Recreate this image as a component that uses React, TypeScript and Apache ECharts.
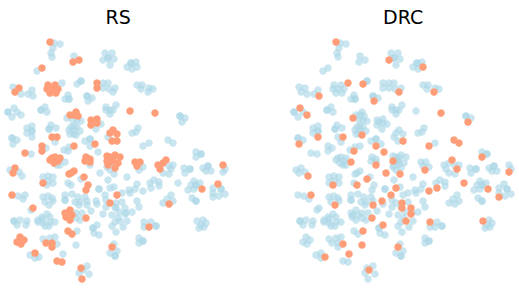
import React, { useEffect, useRef } from "react";
import * as echarts from "echarts";

const titles = ["RS", "DRC"];
const titleLefts = [100.5, 378];
const blueColor = "rgba(173,216,230,0.66)";
const orangeColor = "#ff9d78";

// Shared embedding coordinates, grouped by which panel marks the point in orange.
const neither: number[][] = [
  [54,43],[60,44],[53,48],[51,53],[52,57],[74,56],
  [108,58],[108,58],[105,53],[112,53],[114,59],[110,65],
  [131,63],[131,63],[136,62],[127,67],[132,69],[37,71],
  [137,85],[142,85],[141,89],[149,88],[153,89],
  [180,116],[180,116],[185,118],[138,128],[136,132],[132,133],[149,143],
  [196,152],[201,154],[201,154],[13,87],[21,94],[32,90],[28,94],[81,81],[81,81],
  [68,95],[65,99],[69,99],[69,99],[87,96],[87,96],[92,98],
  [103,83],[108,83],[103,88],[109,89],[115,88],
  [8,112],[8,112],[17,112],[12,117],[41,110],[41,110],[45,107],[47,112],
  [73,120],[77,120],[81,121],[101,124],[96,129],
  [106,107],[110,110],[116,105],[113,110],[110,114],[106,110],
  [32,126],[27,128],[27,133],[32,131],[32,131],[49,129],[49,129],[51,125],[56,128],[55,142],
  [74,126],[71,127],[77,127],[69,130],[80,131],[70,134],[74,134],[74,130],
  [12,138],[12,138],[17,140],[31,154],[46,148],[64,150],[69,147],
  [90,139],[90,139],[85,141],[108,137],
  [10,170],[19,172],[57,165],[60,165],[111,161],[107,167],[113,164],[110,170],[143,167],
  [169,166],[173,165],[163,173],[169,174],[184,168],[190,169],[190,169],[185,173],
  [203,168],[208,166],[208,166],[206,171],[211,171],[225,169],
  [150,183],[154,180],[159,182],[159,186],[137,184],[135,189],[130,193],
  [194,181],[191,185],[196,185],[196,185],[200,183],[188,190],[194,189],
  [213,188],[221,189],[221,189],[213,193],[219,196],[225,194],
  [171,195],[167,199],[163,203],[173,201],[192,198],[196,201],[196,201],[137,201],[139,207],[132,212],
  [203,220],[206,223],[199,228],[204,227],[201,225],
  [144,227],[151,222],[156,226],[156,226],[139,238],[143,241],[143,241],[139,243],
  [48,176],[43,177],[53,177],[48,181],[53,183],[108,180],[127,177],[68,183],
  [18,196],[23,199],[48,196],[43,197],[52,198],[45,202],[53,201],
  [65,195],[65,200],[65,200],[72,194],[78,197],[85,197],[80,202],[75,202],[79,205],[87,201],[91,211],
  [31,210],[97,204],[103,214],[99,189],[99,189],[114,187],[106,200],[106,207],[115,207],[122,202],
  [126,213],[112,215],[119,212],[118,218],[127,221],[115,222],[112,226],[123,227],[116,232],[122,193],[129,190],
  [42,217],[47,214],[38,222],[43,219],[50,217],[55,222],[43,223],[49,226],[45,226],[50,222],[38,220],
  [14,221],[14,221],[20,220],[27,221],[17,225],[26,225],
  [76,213],[82,213],[76,218],[80,220],[93,228],[93,228],[94,233],[99,235],
  [43,239],[50,238],[55,237],[30,255],[35,258],
  [114,244],[117,251],[110,253],[115,256],[115,256],[87,266],[79,273],[89,274],
];

const rsOnly: number[][] = [
  [73,62],[79,60],[42,68],[19,88],[15,92],
  [52,89],[48,85],[55,85],[47,89],[58,89],[50,93],[56,93],[97,83],[97,88],[130,111],
  [70,115],[76,112],[74,115],[78,116],[91,120],[97,119],[91,125],[97,123],[93,122],
  [52,137],[25,153],[42,146],[42,151],[74,146],[95,144],
  [110,133],[113,130],[117,134],[112,141],
  [52,158],[55,157],[60,158],[50,160],[54,163],[58,161],[86,157],[90,159],[85,161],[90,162],
  [110,157],[115,155],[120,157],[112,161],[118,163],[107,156],[108,165],[113,158],[115,168],
  [135,162],[140,162],[137,166],[158,165],[163,163],[160,169],
  [223,165],[218,184],[169,204],[149,227],
  [15,168],[13,173],[43,183],[71,173],[74,171],[69,174],[84,177],[88,185],[86,190],
  [12,195],[117,195],[110,203],[33,208],
  [65,213],[70,210],[72,215],[66,217],[70,220],[67,215],[68,231],[72,234],
  [46,243],[52,243],[52,247],[17,242],[20,237],[24,240],[21,244],[35,253],[57,261],[62,262],[81,268],[82,279],
];

const drcOnly: number[][] = [
  [103,60],[137,67],[148,92],[182,122],[143,146],[168,140],[173,143],[196,157],
  [62,83],[77,84],[33,96],[88,101],[14,108],[21,115],[67,118],[76,135],[32,137],[13,144],
  [68,151],[90,146],[98,152],[113,92],[65,162],[90,165],[22,176],[100,173],[81,179],[71,185],
  [25,195],[47,185],[49,205],[105,195],[110,188],[96,201],[87,205],[97,225],[77,231],[76,245],
  [57,244],[39,257],[63,254],[83,270],[116,203],[116,208],[139,170],[171,169],[223,172],
  [178,183],[151,188],[143,191],[213,197],[125,208],[125,214],[120,221],[144,222],[197,221],[114,174],
];

const both: number[][] = [
  [50,42],[155,113],[112,247],[166,160],[86,218],[107,161],[117,141],[202,189],[57,137],
];

export default function App() {
  const ref = useRef<HTMLDivElement>(null);
  useEffect(() => {
    const chart = echarts.init(ref.current!, null, { renderer: "svg" });
    const axisBase = { type: "value" as const, show: false, min: 0 };
    const scatter = (idx: number, data: number[][], color: string) => ({
      type: "scatter" as const,
      xAxisIndex: idx,
      yAxisIndex: idx,
      data,
      symbolSize: 7.5,
      clip: false,
      itemStyle: { color, opacity: 1, borderWidth: 0 },
    });
    chart.setOption({
      animation: false,
      backgroundColor: "#fff",
      title: titles.map((text, i) => ({
        text,
        left: titleLefts[i],
        top: 2,
        textStyle: { fontFamily: "DejaVu Sans", fontSize: 19, fontWeight: "normal", color: "#000" },
      })),
      grid: [
        { left: 0, top: 0, width: 260, height: 293 },
        { left: 286, top: 0, width: 233, height: 293 },
      ],
      xAxis: [
        { ...axisBase, gridIndex: 0, max: 260 },
        { ...axisBase, gridIndex: 1, max: 233 },
      ],
      yAxis: [
        { ...axisBase, gridIndex: 0, max: 293, inverse: true },
        { ...axisBase, gridIndex: 1, max: 293, inverse: true },
      ],
      series: [
        scatter(0, [...neither, ...drcOnly], blueColor),
        scatter(0, [...rsOnly, ...both], orangeColor),
        scatter(1, [...neither, ...rsOnly], blueColor),
        scatter(1, [...drcOnly, ...both], orangeColor),
      ],
    });
    return () => chart.dispose();
  }, []);
  return <div ref={ref} style={{ position: "fixed", left: 0, top: 0, width: 519, height: 293 }} />;
}
